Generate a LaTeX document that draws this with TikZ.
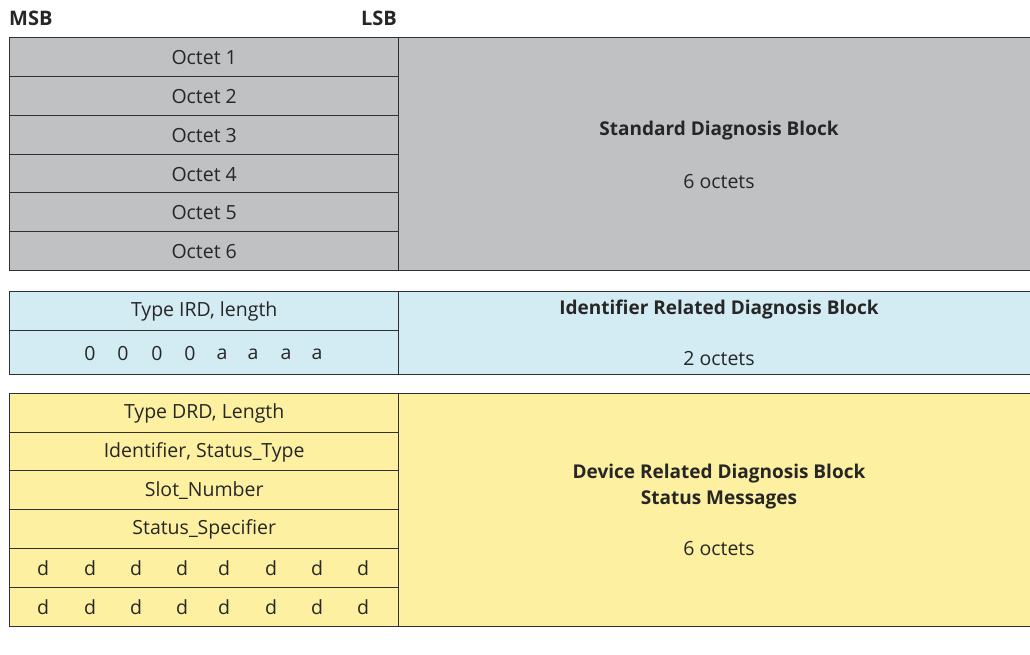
\documentclass[tikz,border=0pt]{standalone}
\usepackage{fontspec}
\setmainfont{Open Sans}
\definecolor{gfill}{HTML}{C0C1C3}
\definecolor{bfill}{HTML}{D3ECF3}
\definecolor{yfill}{HTML}{FDF0A0}
\definecolor{edge}{HTML}{303030}
\begin{document}
\begin{tikzpicture}[x=1pt,y=-1pt,
  every node/.style={font=\fontsize{19.5}{23}\selectfont, text=black!85, inner sep=0pt},
  cell/.style={draw=edge, line width=1.4pt, minimum width=389pt, anchor=north west},
  wide/.style={draw=edge, line width=1.4pt, minimum width=640pt, anchor=north west},
  hdr/.style={font=\fontsize{20}{24}\selectfont\bfseries},
  bold/.style={font=\fontsize{19}{26}\selectfont\bfseries, align=center}]
\useasboundingbox (0,0) rectangle (1030,654);
% header
\node[hdr, anchor=base west] (msb) at (9,25) {MSB};
\node[hdr, anchor=base east] (lsb) at (397,25) {LSB};
% standard block
\node[wide, fill=gfill, minimum height=233pt] (sdb) at (398,37) {};
\foreach \i/\y in {1/37,2/76,3/115,4/154,5/192,6/231}{
  \node[cell, fill=gfill, minimum height=39pt] (oct\i) at (9,\y) {Octet \i};
}
\node[bold] (sdbt) at (719,131) {Standard Diagnosis Block};
\node (sdbn) at (719,182) {6 octets};
% identifier block
\node[wide, fill=bfill, minimum height=83pt] (idb) at (398,291) {};
\node[cell, fill=bfill, minimum height=39pt] (ird) at (9,291) {Type IRD, length};
\node[cell, fill=bfill, minimum height=44pt] (irdb) at (9,330) {};
\foreach \x/\t [count=\k] in {90/0,123/0,157/0,190/0,222/a,253/a,286/a,317/a}{
  \node (ib\k) at (\x,354) {\t};
}
\node[bold] (idbt) at (719,310) {Identifier Related Diagnosis Block};
\node (idbn) at (719,359) {2 octets};
% device block
\node[wide, fill=yfill, minimum height=233pt] (ddb) at (398,393) {};
\node[cell, fill=yfill, minimum height=39pt] (drd) at (9,393) {Type DRD, Length};
\node[cell, fill=yfill, minimum height=39pt] (ist) at (9,432) {Identifier, Status\_Type};
\node[cell, fill=yfill, minimum height=39pt] (slot) at (9,470) {Slot\_Number};
\node[cell, fill=yfill, minimum height=39pt] (spec) at (9,509) {Status\_Specifier};
\node[cell, fill=yfill, minimum height=39pt] (d1) at (9,548) {};
\node[cell, fill=yfill, minimum height=39pt] (d2) at (9,587) {};
\foreach \x [count=\k] in {43,90,136,182,224,271,317,363}{
  \node[anchor=base] (da\k) at (\x,575) {d};
  \node[anchor=base] (db\k) at (\x,614) {d};
}
\node[bold] (ddbt) at (719,487) {Device Related Diagnosis Block\\Status Messages};
\node (ddbn) at (719,549) {6 octets};
\end{tikzpicture}
\end{document}
